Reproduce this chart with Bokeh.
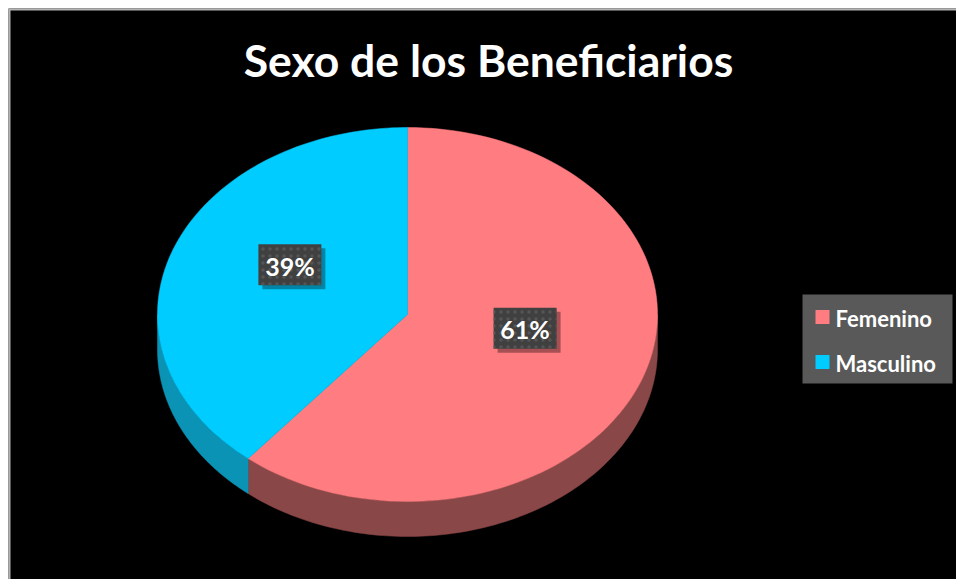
import numpy as np
from bokeh.plotting import figure
from bokeh.models import Range1d, Label, Span
from bokeh.core.properties import value
from bokeh.embed import file_html
from bokeh.resources import INLINE

# ---- data ----
categories = ["Femenino", "Masculino"]
values = [61, 39]
top_colors = ["#FF7C80", "#00CCFF"]
side_colors = ["#8A4747", "#0A93B5"]
title_text = "Sexo de los Beneficiarios"

# ---- layout ----
W, H = 956, 579
M = 8
FW, FH = W - M, H - M
cx, cy, rx, ry, depth = 399, 306, 250, 187, 35
FONT = "Lato"

p = figure(width=W, height=H, x_range=Range1d(0, FW), y_range=Range1d(FH, 0),
           output_backend="svg", toolbar_location=None,
           min_border_left=M, min_border_top=M, min_border_right=0, min_border_bottom=0,
           background_fill_color="black", border_fill_color="white",
           outline_line_color=None)
p.axis.visible = False
p.grid.visible = False

fr = np.array(values, dtype=float) / sum(values)
ends = np.cumsum(fr) * 2 * np.pi
starts = np.concatenate([[0.0], ends[:-1]])


def arc(a, b, r=1.0, dy=0.0, n=120):
    t = np.linspace(a, b, n)
    return cx + r * rx * np.sin(t), cy - r * ry * np.cos(t) + dy


# sides (front half only)
for s, e, col in zip(starts, ends, side_colors):
    a, b = max(s, np.pi / 2), min(e, 3 * np.pi / 2)
    if a < b:
        x1, y1 = arc(a, b)
        x2, y2 = arc(b, a, dy=depth)
        p.patch(np.concatenate([x1, x2]), np.concatenate([y1, y2]),
                fill_color=col, line_color=col, line_width=0.5)

# tops
for s, e, col in zip(starts, ends, top_colors):
    x, y = arc(s, e)
    p.patch(np.concatenate([[cx], x]), np.concatenate([[cy], y]),
            fill_color=col, line_color=col, line_width=0.5)

# data labels
mids = (starts + ends) / 2
lx = cx + 0.5 * rx * np.sin(mids)
ly = cy - 0.5 * ry * np.cos(mids) - 18
labels = [f"{v}%" for v in values]
p.rect(lx + 4, ly + 4, width=63, height=41, fill_color="black", fill_alpha=0.35, line_color=None)
p.rect(lx, ly, width=63, height=41, fill_color="#404040", line_color=None,
       hatch_pattern=".", hatch_color="#555555", hatch_scale=7, hatch_weight=1)
p.text(lx, ly + 1, text=labels, text_align="center", text_baseline="middle",
       text_color="white", text_font=value(FONT), text_font_style="bold",
       text_font_size="25px")

# title
p.add_layout(Label(x=480, y=51, text=title_text, text_align="center", text_baseline="middle",
                   text_color="white", text_font=FONT, text_font_style="bold",
                   text_font_size="44.5px"))

# legend (manual)
leg_x0, leg_x1, leg_y0, leg_y1 = 794, 944, 286, 375
p.quad(left=leg_x0, right=leg_x1, top=leg_y0, bottom=leg_y1,
       fill_color="#595959", line_color=None)
n = len(categories)
item_y = [308.5 + 45 * i for i in range(n)]
p.rect([814] * n, item_y, width=14, height=14, fill_color=top_colors, line_color=None)
p.text([827] * n, [y + 1 for y in item_y], text=categories, text_align="left",
       text_baseline="middle", text_color="white", text_font=value(FONT),
       text_font_style="bold", text_font_size="22px")

# chart border (left/top)
p.add_layout(Span(location=0, dimension="height", line_color="#b4b4b4", line_width=4))
p.add_layout(Span(location=0, dimension="width", line_color="#b4b4b4", line_width=4))

open("out.html", "w").write(file_html(p, INLINE))
